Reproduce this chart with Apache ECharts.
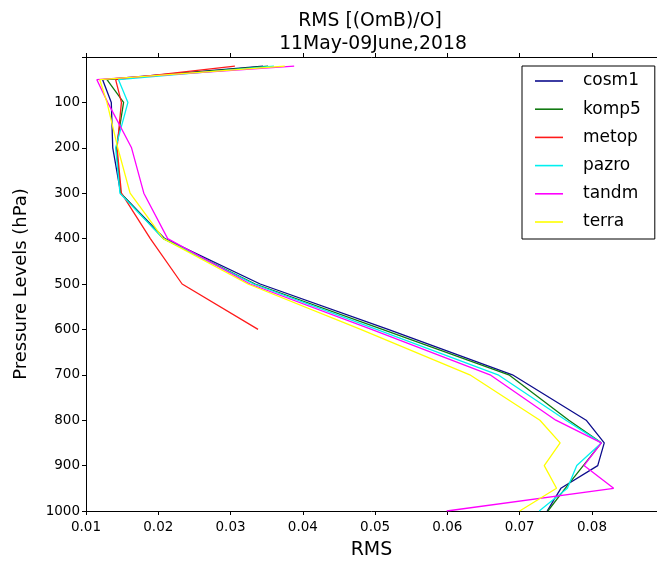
<!DOCTYPE html>
<html>
<head>
<meta charset="utf-8">
<script src="https://cdn.jsdelivr.net/npm/echarts@6/dist/echarts.min.js"></script>
<style>
  html, body { margin: 0; padding: 0; background: #fff; }
  #chart { width: 657px; height: 565px; }
</style>
</head>
<body>
<div id="chart"></div>
<script>
// Pressure levels (hPa) of the profiles
const levels = [20, 50, 100, 200, 300, 400, 500, 600, 700, 800, 850, 900, 950, 1000];

// RMS of (O-B)/O per mission at each level
const cosm1 = [0.0345, 0.0123, 0.0135, 0.0137, 0.0148, 0.0209, 0.0341, 0.0518, 0.0690, 0.0792, 0.0817, 0.0808, 0.0757, 0.0738];
const komp5 = [0.0352, 0.0129, 0.0152, 0.0142, 0.0148, 0.0207, 0.0334, 0.0510, 0.0685, 0.0768, 0.0813, 0.0788, 0.0763, 0.0739];
const metop = [0.0306, 0.0141, 0.0149, 0.0143, 0.0149, 0.0189, 0.0233, 0.0338, null, null, null, null, null, null];
const pazro = [0.0360, 0.0145, 0.0158, 0.0141, 0.0147, 0.0207, 0.0332, 0.0502, 0.0670, 0.0764, 0.0813, 0.0779, 0.0766, 0.0727];
const tandm = [0.0388, 0.0115, 0.0130, 0.0163, 0.0180, 0.0213, 0.0327, 0.0495, 0.0659, 0.0750, 0.0813, 0.0789, 0.0830, 0.0599];
const terra = [0.0375, 0.0119, 0.0129, 0.0144, 0.0161, 0.0207, 0.0324, 0.0480, 0.0631, 0.0728, 0.0756, 0.0734, 0.0751, 0.0700];

const seriesNames = ['cosm1', 'komp5', 'metop', 'pazro', 'tandm', 'terra'];
const seriesValues = [cosm1, komp5, metop, pazro, tandm, terra];
const seriesColors = ['#0c0c8c', '#117a11', '#ff1a1a', '#00f0f0', '#ff00ff', '#ffff00'];

const xTickMin = 0.01, xTickMax = 0.089, xStep = 0.01;
const yMin = 0, yMax = 1000, yStep = 100;

const FONT = 'DejaVu Sans';

const chart = echarts.init(document.getElementById('chart'), null, { renderer: 'canvas' });

const series = seriesNames.map((name, i) => ({
  name: name,
  type: 'line',
  xAxisIndex: 0,
  yAxisIndex: 0,
  showSymbol: false,
  symbol: 'none',
  animation: false,
  lineStyle: { color: seriesColors[i], width: 1.3 },
  itemStyle: { color: seriesColors[i] },
  data: levels.map((p, k) => seriesValues[i][k] == null ? null : [seriesValues[i][k], p])
}));

const xAxisCommon = {
  type: 'value',
  min: xTickMin,
  max: xTickMax,
  interval: xStep,
  splitLine: { show: false },
  axisLine: { show: true, onZero: false, lineStyle: { color: '#000', width: 1 } },
  axisTick: { show: true, inside: false, length: 4, lineStyle: { color: '#000', width: 1 } }
};

chart.setOption({
  backgroundColor: '#fff',
  animation: false,
  textStyle: { fontFamily: FONT },
  grid: { left: 86, right: 0, top: 57, bottom: 49, containLabel: false },
  graphic: [
    { type: 'text', x: 370, y: 21, style: { text: 'RMS [(OmB)/O]', fontSize: 18.8, fontFamily: FONT, fill: '#000', textAlign: 'center', textVerticalAlign: 'middle' } },
    { type: 'text', x: 373, y: 44, style: { text: '11May-09June,2018', fontSize: 18.8, fontFamily: FONT, fill: '#000', textAlign: 'center', textVerticalAlign: 'middle' } }
  ],
  legend: {
    orient: 'vertical',
    left: 522,
    top: 66,
    padding: [5, 14, 7, 13],
    itemGap: 8.2,
    itemWidth: 28,
    itemHeight: 1.6,
    icon: 'rect',
    borderColor: '#000',
    borderWidth: 1,
    borderRadius: 0,
    backgroundColor: '#fff',
    data: seriesNames,
    textStyle: { fontSize: 17, lineHeight: 20, color: '#000', fontFamily: FONT, padding: [0, 0, 0, 15] }
  },
  xAxis: [
    Object.assign({}, xAxisCommon, {
      position: 'bottom',
      name: 'RMS',
      nameLocation: 'middle',
      nameGap: 30,
      nameTextStyle: { fontSize: 19, color: '#000', fontFamily: FONT, verticalAlign: 'top' },
      axisLabel: {
        show: true, color: '#000', fontSize: 13.5, fontFamily: FONT, margin: 9,
        showMaxLabel: false,
        formatter: v => v.toFixed(2)
      }
    }),
    Object.assign({}, xAxisCommon, {
      position: 'top',
      axisLabel: { show: false }
    })
  ],
  yAxis: [{
    type: 'value',
    inverse: true,
    min: yMin,
    max: yMax,
    interval: yStep,
    position: 'left',
    splitLine: { show: false },
    axisLine: { show: true, onZero: false, lineStyle: { color: '#000', width: 1 } },
    axisTick: { show: true, inside: false, length: 4, lineStyle: { color: '#000', width: 1 } },
    axisLabel: {
      color: '#000', fontSize: 13.5, fontFamily: FONT, margin: 6,
      formatter: v => (v === 0 ? '' : String(v))
    },
    name: 'Pressure Levels (hPa)',
    nameLocation: 'middle',
    nameGap: 56,
    nameTextStyle: { fontSize: 18, color: '#000', fontFamily: FONT }
  }],
  series: series
});
</script>
</body>
</html>
